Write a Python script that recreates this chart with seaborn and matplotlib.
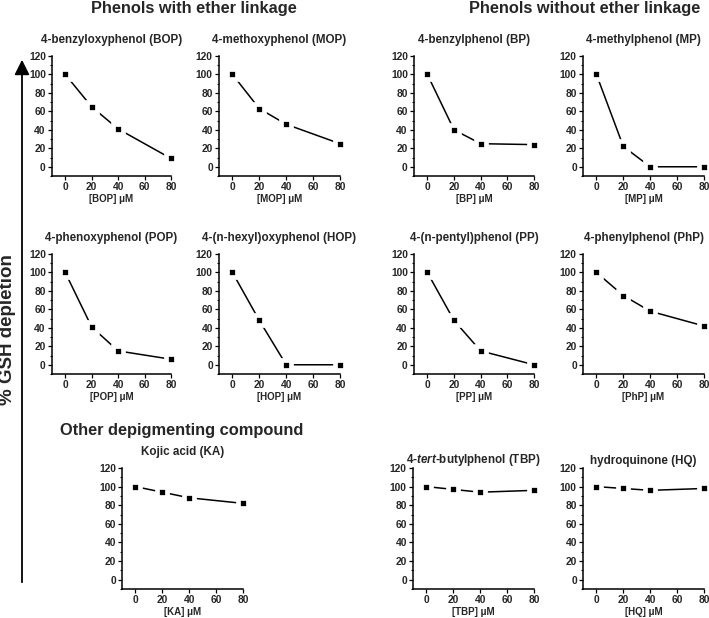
import matplotlib
matplotlib.use("Agg")
import matplotlib.pyplot as plt
import seaborn as sns
from matplotlib.patches import FancyArrowPatch
from matplotlib.ticker import MultipleLocator

# concentrations (uM) shared by all panels
conc = [0, 20, 40, 80]

bop = [100, 65, 41, 9]
mop = [100, 63, 46, 25]
bp = [100, 40, 25, 24]
mp = [100, 22, 0, 0]
pop = [100, 41, 15, 6]
hop = [100, 48, 0, 0]
pp = [100, 48, 15, 0]
php = [100, 75, 58, 42]
ka = [100, 94, 88, 82]
tbp = [100, 97, 94, 96]
hq = [100, 98, 96, 98]

titles = [
    "4-benzyloxyphenol (BOP)", "4-methoxyphenol (MOP)", "4-benzylphenol (BP)", "4-methylphenol (MP)",
    "4-phenoxyphenol (POP)", "4-(n-hexyl)oxyphenol (HOP)", "4-(n-pentyl)phenol (PP)", "4-phenylphenol (PhP)",
    "Kojic acid (KA)", "4-$\\mathit{tert}$-butylphenol (TBP)", "hydroquinone (HQ)",
]
abbrevs = ["BOP", "MOP", "BP", "MP", "POP", "HOP", "PP", "PhP", "KA", "TBP", "HQ"]
series = [bop, mop, bp, mp, pop, hop, pp, php, ka, tbp, hq]

W, H = 709, 618

sns.set_theme(style="ticks")
plt.rcParams["font.family"] = ["Liberation Sans", "DejaVu Sans"]
plt.rcParams["font.weight"] = "bold"
plt.rcParams["mathtext.fontset"] = "custom"
plt.rcParams["mathtext.it"] = "Liberation Sans:italic:bold"
plt.rcParams["mathtext.rm"] = "Liberation Sans:bold"

fig = plt.figure(figsize=(W / 100, H / 100), dpi=100)


def px_axes(left, top, right, bottom):
    return fig.add_axes([left / W, 1 - bottom / H, (right - left) / W, (bottom - top) / H])


# (left, top, right, bottom, title pad) in pixels
boxes = [
    (52, 56, 171, 176, 9), (219, 56, 340, 176, 9), (414, 56, 534, 176, 9), (583, 56, 704, 176, 9),
    (52, 254, 171, 374, 9), (219, 254, 340, 374, 9), (414, 254, 534, 374, 9), (583, 254, 704, 374, 9),
    (122, 468, 243, 589, 9), (413, 468, 534, 589, 3), (583, 468, 704, 589, 3),
]

for (l, t, r, b, pad), title, ab, vals in zip(boxes, titles, abbrevs, series):
    ax = px_axes(l, t, r, b)
    sns.lineplot(
        x=conc, y=vals, ax=ax, color="black", linewidth=1.1,
        marker="s", markersize=7.2, markerfacecolor="black",
        markeredgecolor="white", markeredgewidth=3.4, clip_on=False,
    )
    ax.set_xlim(-10, 80)
    ax.set_ylim(-10, 120)
    ax.set_xticks([0, 20, 40, 60, 80])
    ax.set_yticks([0, 20, 40, 60, 80, 100, 120])
    ax.yaxis.set_minor_locator(MultipleLocator(10))
    ax.tick_params(axis="both", which="major", labelsize=7.4, length=3, width=0.9, pad=1.5, color="black")
    ax.tick_params(axis="y", which="minor", length=1.8, width=0.8, color="black")
    for lab in ax.get_xticklabels() + ax.get_yticklabels():
        lab.set_fontweight("bold")
    for s in ["left", "bottom"]:
        ax.spines[s].set_linewidth(1.1)
        ax.spines[s].set_color("black")
    sns.despine(ax=ax)
    ax.set_title(title, fontsize=8.4, fontweight="bold", pad=pad)
    ax.set_xlabel(f"[{ab}] \u03bcM", fontsize=7, fontweight="bold", labelpad=1)
    ax.set_ylabel("")

# section headers
fig.text(194 / W, 1 - 8 / H, "Phenols with ether linkage", ha="center", va="center", fontsize=11.8, fontweight="bold")
fig.text(585 / W, 1 - 8 / H, "Phenols without ether linkage", ha="center", va="center", fontsize=11.8, fontweight="bold")
fig.text(182 / W, 1 - 431 / H, "Other depigmenting compound", ha="center", va="center", fontsize=11.8, fontweight="bold")

# y label with arrow
fig.text(8 / W, 1 - 330 / H, "% GSH depletion", rotation=90, ha="center", va="center", fontsize=13.5, fontweight="bold")
arrow = FancyArrowPatch(
    (22 / W, 1 - 585 / H), (22 / W, 1 - 57 / H), transform=fig.transFigure,
    arrowstyle="-|>,head_length=6,head_width=3", color="black", linewidth=1.3, mutation_scale=1.5,
)
fig.add_artist(arrow)

fig.savefig("out.png", dpi=100)
